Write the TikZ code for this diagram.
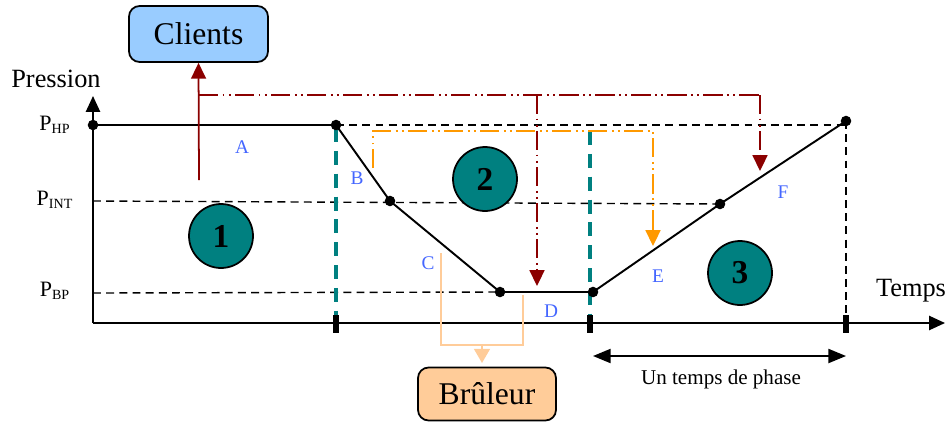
\documentclass[tikz,border=0pt]{standalone}
\usepackage{fontspec}
\setmainfont{Liberation Serif}
\usetikzlibrary{arrows.meta}
\definecolor{tealc}{HTML}{008080}
\definecolor{bluel}{HTML}{4466FF}
\definecolor{darkr}{HTML}{8B0000}
\definecolor{orangec}{HTML}{FF9900}
\definecolor{peach}{HTML}{FFCC99}
\definecolor{skyc}{HTML}{99CCFF}
\tikzset{
  px/.style={x=0.02cm,y=-0.02cm},
  curve/.style={line width=1.1pt,black},
  guide/.style={line width=0.8pt,dash pattern=on 4.5pt off 3pt},
  phaseline/.style={line width=1.8pt,tealc,dash pattern=on 8pt off 5pt},
  pt/.style={circle,fill=black,inner sep=0pt,minimum size=6pt},
  tick/.style={line width=3pt},
  lab/.style={text=bluel,font=\fontsize{11}{12}\selectfont},
  phase/.style={circle,draw=black,line width=1pt,fill=tealc,minimum size=1.28cm,inner sep=0pt,font=\fontsize{19}{20}\selectfont\bfseries},
  level/.style={font=\fontsize{12.5}{14}\selectfont,anchor=center},
  box/.style={draw=black,line width=1pt,rounded corners=6pt,inner sep=0pt,font=\fontsize{18}{20}\selectfont},
  flowred/.style={darkr,line width=1pt,dash pattern=on 11pt off 2.5pt on 1pt off 2.5pt on 1pt off 2.5pt},
  floworange/.style={orangec,line width=1pt,dash pattern=on 11pt off 2.5pt on 1pt off 2.5pt on 1pt off 2.5pt},
  tip/.style={-{Triangle[width=8.5pt,length=9pt]}},
  axis/.style={line width=1.1pt,-{Triangle[width=8pt,length=9pt]}},
}
\begin{document}
\begin{tikzpicture}[px]
\useasboundingbox (0,0) rectangle (945,423);

% axes
\coordinate (O) at (93,323);
\coordinate (yend) at (93,96);
\coordinate (xend) at (945,323);
\draw[axis] (O) -- (yend);
\draw[axis] (O) -- (xend);
\node[font=\fontsize{15}{16}\selectfont] (pression) at (56,79) {Pression};
\node[font=\fontsize{15}{16}\selectfont] (temps) at (911,291) {Temps};

% pressure levels
\node[level] (php) at (55,125) {P\textsubscript{\fontsize{8}{9}\selectfont HP}};
\node[level] (pint) at (55,200) {P\textsubscript{\fontsize{8}{9}\selectfont INT}};
\node[level] (pbp) at (55,291) {P\textsubscript{\fontsize{8}{9}\selectfont BP}};

% curve points
\coordinate (p0) at (93,125);
\coordinate (p1) at (336,125);
\coordinate (p2) at (390,201);
\coordinate (p3) at (500,292);
\coordinate (p4) at (593,292);
\coordinate (p5) at (720,204);
\coordinate (p6) at (846,121);

% guide lines
\draw[guide] (p1) -- (846,125);
\draw[guide] (93,201) -- (p5);
\draw[guide] (93,293) -- (p3);
\draw[guide] (p6) -- (846,323);

% phase boundaries
\draw[phaseline] (336,128) -- (336,323);
\draw[phaseline] (590,131) -- (590,323);
\draw[tick] (336,315) -- (336,333);
\draw[tick] (590,315) -- (590,333);
\draw[tick] (846,315) -- (846,333);

% pressure curve
\draw[curve] (p0) -- (p1) -- (p2) -- (p3) -- (p4) -- (p5) -- (p6);
\foreach \p in {p0,p1,p2,p3,p4,p5,p6} \node[pt] at (\p) {};

% segment labels
\node[lab] (la) at (242,147) {A};
\node[lab] (lb) at (357,178) {B};
\node[lab] (lc) at (428,263) {C};
\node[lab] (ld) at (551,311) {D};
\node[lab] (le) at (658,276) {E};
\node[lab] (lf) at (783,192) {F};

% phases
\node[phase] (ph1) at (221,236) {1};
\node[phase] (ph2) at (485,179) {2};
\node[phase] (ph3) at (740,273) {3};

% boxes
\node[box,fill=skyc,minimum width=2.78cm,minimum height=1.12cm] (clients) at (198.5,34) {Clients};
\node[box,fill=peach,minimum width=2.76cm,minimum height=1.06cm] (bruleur) at (487,394) {Brûleur};

% flows towards the clients
\coordinate (c0) at (199,180);
\coordinate (r0) at (199,95);
\coordinate (r1) at (537,95);
\coordinate (r2) at (760,95);
\coordinate (r1e) at (537,286);
\coordinate (r2e) at (760,171);
\draw[darkr,line width=1pt,tip] (c0) -- (clients.south);
\draw[flowred] (r0) -- (r2);
\draw[flowred,tip] (r2) -- (r2e);
\draw[flowred,tip] (r1) -- (r1e);

% flow during compression
\coordinate (o0) at (373,168);
\coordinate (o1) at (373,131);
\coordinate (o2) at (653,131);
\coordinate (o3) at (653,246);
\draw[floworange,tip] (o0) -- (o1) -- (o2) -- (o3);

% flow to the burner
\coordinate (b0) at (441,253);
\coordinate (b1) at (441,345);
\coordinate (b2) at (523,345);
\coordinate (b3) at (523,295);
\coordinate (bm) at (482,345);
\coordinate (bme) at (482,363);
\draw[peach,line width=1pt] (b0) -- (b1) -- (b2) -- (b3);
\draw[peach,line width=1pt,-{Triangle[width=9pt,length=8pt]}] (bm) -- (bme);

% phase duration
\coordinate (d0) at (593,356);
\coordinate (d1) at (846,356);
\draw[line width=1pt,{Triangle[width=8pt,length=10pt]}-{Triangle[width=8pt,length=10pt]}] (d0) -- (d1);
\node[font=\fontsize{12}{13}\selectfont] (dur) at (721,379) {Un temps de phase};
\end{tikzpicture}
\end{document}
